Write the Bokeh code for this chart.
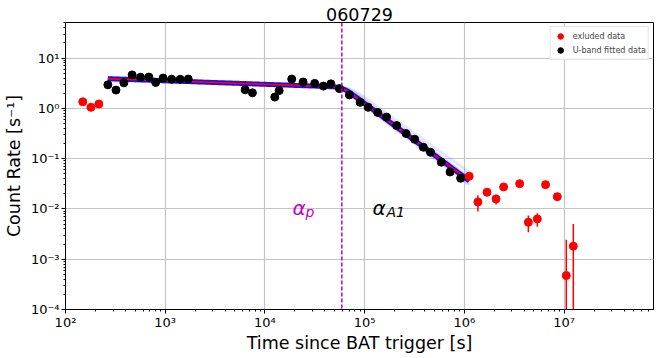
import numpy as np
from bokeh.plotting import figure
from bokeh.models import Span, Legend, LegendItem, CustomJSTickFormatter, FixedTicker
from bokeh.core.properties import value
from bokeh.embed import file_html
from bokeh.resources import INLINE

# ---------------- data ----------------
title_text = "060729"

fit_t = [266, 321, 385, 466, 566, 685, 802, 953, 1161, 1413, 1702,
         6339, 7500, 12560, 13900, 18580, 24160, 31600, 38640, 45920, 55850,
         70400, 90200, 108700, 135300, 166000, 209700, 260700, 317900, 388300,
         458500, 588300, 719500, 918600]
fit_rate = [2.94, 2.31, 3.22, 4.63, 4.15, 4.19, 3.28, 4.00, 3.80, 3.78, 3.82,
            2.34, 2.04, 1.68, 2.26, 3.82, 3.33, 3.14, 2.77, 3.07, 2.47,
            1.85, 1.32, 1.05, 0.83, 0.67, 0.455, 0.316, 0.243, 0.169,
            0.134, 0.085, 0.0543, 0.0407]
fit_err = [0.25, 0.3, 0.25, 0.3, 0.25, 0.25, 0.25, 0.25, 0.2, 0.2, 0.2,
           0.2, 0.2, 0.2, 0.2, 0.25, 0.2, 0.2, 0.15, 0.15, 0.12,
           0.1, 0.07, 0.05, 0.04, 0.03, 0.02, 0.015, 0.012, 0.009,
           0.008, 0.005, 0.004, 0.003]

excl_t = [149, 180, 216, 1.12e6, 1.37e6, 1.69e6, 2.08e6, 2.48e6, 3.59e6,
          4.39e6, 5.40e6, 6.53e6, 8.56e6, 1.054e7, 1.24e7]
excl_rate = [1.35, 1.05, 1.22, 0.0446, 0.01377, 0.0215, 0.0158, 0.0274, 0.0318,
             0.00544, 0.00633, 0.0304, 0.01754, 0.000473, 0.001816]
excl_err = [0.06, 0.05, 0.06, 0.003, 0.0049, 0.002, 0.0035, 0.004, 0.002,
            0.002, 0.0019, 0.002, 0.0015, 0.00197, 0.0032]

# best-fit broken power law (plateau -> normal decay)
fit_alpha_p = 0.071
fit_alpha_a1 = 1.465
fit_tbreak = 6.0e4
fit_fbreak = 2.65
fit_smooth = 10.0
fit_tstart = 266
fit_tend = 1.12e6

# posterior samples drawn as the blue band
band_alpha_p = [0.055, 0.062, 0.066, 0.070, 0.074, 0.078, 0.086, 0.068, 0.072, 0.064, 0.082, 0.071]
band_alpha_a1 = [1.43, 1.45, 1.49, 1.46, 1.48, 1.44, 1.51, 1.47, 1.455, 1.485, 1.42, 1.50]
band_tbreak = [5.6e4, 6.4e4, 5.8e4, 6.2e4, 6.9e4, 5.4e4, 6.6e4, 6.0e4, 5.8e4, 6.3e4, 7.4e4, 5.6e4]
band_fbreak = [2.70, 2.60, 2.66, 2.62, 2.56, 2.72, 2.58, 2.67, 2.64, 2.61, 2.52, 2.69]

x_ticks = [1e2, 1e3, 1e4, 1e5, 1e6, 1e7]
y_ticks = [1e-4, 1e-3, 1e-2, 1e-1, 1e0, 1e1]

alpha_label_y = 0.0102
alpha_p_x = 1.89e4
alpha_a1_x = 1.2e5


def bpl(t, a1, a2, tb, fb, w=fit_smooth):
    r = t / tb
    return fb * (r ** (w * a1) + r ** (w * a2)) ** (-1.0 / w)


FONT = "DejaVu Sans"
MAG = "#bf00bf"

p = figure(x_axis_type="log", y_axis_type="log",
           x_range=(1e2, 7.9e7), y_range=(1e-4, 51),
           frame_width=588, frame_height=287,
           min_border_left=10, min_border_right=2, min_border_top=22, min_border_bottom=10,
           output_backend="svg", toolbar_location=None)

p.title.text = title_text
p.title.align = "center"
p.title.text_font = FONT
p.title.text_font_size = "17.5px"
p.title.text_font_style = "normal"
p.title.text_color = "black"
p.title.standoff = 4

p.outline_line_color = "black"
p.outline_line_width = 1
p.background_fill_color = "white"
p.border_fill_color = "white"

p.grid.grid_line_color = "#c4c4c4"
p.grid.grid_line_width = 1.2

minor_x = [m * 10.0 ** k for k in range(2, 8) for m in range(2, 10)]
minor_y = [m * 10.0 ** k for k in range(-4, 2) for m in range(2, 10)]
p.xaxis.ticker = FixedTicker(ticks=x_ticks, minor_ticks=minor_x)
p.yaxis.ticker = FixedTicker(ticks=y_ticks, minor_ticks=minor_y)

fmt_code = """
const e = Math.round(Math.log10(tick));
const m = {'-':'\u207b','0':'\u2070','1':'\u00b9','2':'\u00b2','3':'\u00b3','4':'\u2074','5':'\u2075','6':'\u2076','7':'\u2077','8':'\u2078','9':'\u2079'};
let s = '';
for (const c of String(e)) { s += m[c]; }
return '10' + s;
"""
p.xaxis.formatter = CustomJSTickFormatter(code=fmt_code)
p.yaxis.formatter = CustomJSTickFormatter(code=fmt_code)

for ax in (p.xaxis[0], p.yaxis[0]):
    ax.axis_line_color = "black"
    ax.major_tick_line_color = "black"
    ax.minor_tick_line_color = "black"
    ax.major_tick_out = 4
    ax.major_tick_in = 0
    ax.minor_tick_out = 2
    ax.minor_tick_in = 0
    ax.major_label_text_font = FONT
    ax.major_label_text_font_size = "13px"
    ax.major_label_text_color = "black"
    ax.major_label_standoff = 2
    ax.axis_label_text_font = FONT
    ax.axis_label_text_font_size = "17.5px"
    ax.axis_label_text_font_style = "normal"
    ax.axis_label_text_color = "black"
    ax.axis_label_standoff = 4
p.xaxis.axis_label_standoff = 0
p.xaxis.major_label_standoff = 1

p.xaxis.axis_label = "Time since BAT trigger [s]"
p.yaxis.axis_label = "Count Rate [s\u207b\u00b9]"

# band of samples
tt = np.logspace(np.log10(fit_tstart), np.log10(fit_tend), 200)
xs, ys = [], []
for a1, a2, tb, fb in zip(band_alpha_p, band_alpha_a1, band_tbreak, band_fbreak):
    xs.append(tt)
    ys.append(bpl(tt, a1, a2, tb, fb))
best = bpl(tt, fit_alpha_p, fit_alpha_a1, fit_tbreak, fit_fbreak)
p.multi_line(xs, ys, line_color="blue", line_alpha=0.1, line_width=3)
p.line(tt, best, line_color="blue", line_alpha=0.9, line_width=5)

# best fit
p.line(tt, best, line_color="red", line_width=1.8)

# break marker
p.add_layout(Span(location=fit_tbreak * 0.985, dimension="height", line_color=MAG,
                  line_dash="4 2", line_width=1.5))

# error bars
ft = np.array(fit_t, float); fr = np.array(fit_rate); fe = np.array(fit_err)
et = np.array(excl_t, float); er = np.array(excl_rate); ee = np.array(excl_err)
p.segment(x0=et, y0=np.maximum(er - ee, 1e-7), x1=et, y1=er + ee, line_color="red", line_width=1.5)
p.segment(x0=ft, y0=np.maximum(fr - fe, 1e-7), x1=ft, y1=fr + fe, line_color="black", line_width=1.5)

r_ex = p.scatter(et, er, size=8, fill_color="red", line_color="red")
r_fit = p.scatter(ft, fr, size=8, fill_color="black", line_color="black")

# alpha labels
p.text(x=[alpha_p_x], y=[alpha_label_y], text=["\u03b1"], text_font=value(FONT),
       text_font_style="italic", text_font_size="20px", text_color=MAG,
       text_baseline="alphabetic", text_align="left")
p.text(x=[alpha_p_x], y=[alpha_label_y], text=["p"], text_font=value(FONT),
       text_font_style="italic", text_font_size="14px", text_color=MAG,
       text_baseline="alphabetic", text_align="left", x_offset=13, y_offset=4)
p.text(x=[alpha_a1_x], y=[alpha_label_y], text=["\u03b1"], text_font=value(FONT),
       text_font_style="italic", text_font_size="20px", text_color="black",
       text_baseline="alphabetic", text_align="left")
p.text(x=[alpha_a1_x], y=[alpha_label_y], text=["A1"], text_font=value(FONT),
       text_font_style="italic", text_font_size="14px", text_color="black",
       text_baseline="alphabetic", text_align="left", x_offset=14, y_offset=4)

legend = Legend(items=[LegendItem(label="exluded data", renderers=[r_ex]),
                       LegendItem(label="U-band fitted data", renderers=[r_fit])],
                location="top_right")
legend.label_text_font = FONT
legend.label_text_font_size = "8px"
legend.label_height = 10
legend.glyph_height = 14
legend.glyph_width = 15
legend.padding = 2
legend.spacing = 0
legend.label_standoff = 5
legend.margin = 4
legend.border_line_color = "#cccccc"
legend.border_line_width = 1
legend.background_fill_alpha = 0.8
p.add_layout(legend)

open("out.html", "w").write(file_html(p, INLINE))
